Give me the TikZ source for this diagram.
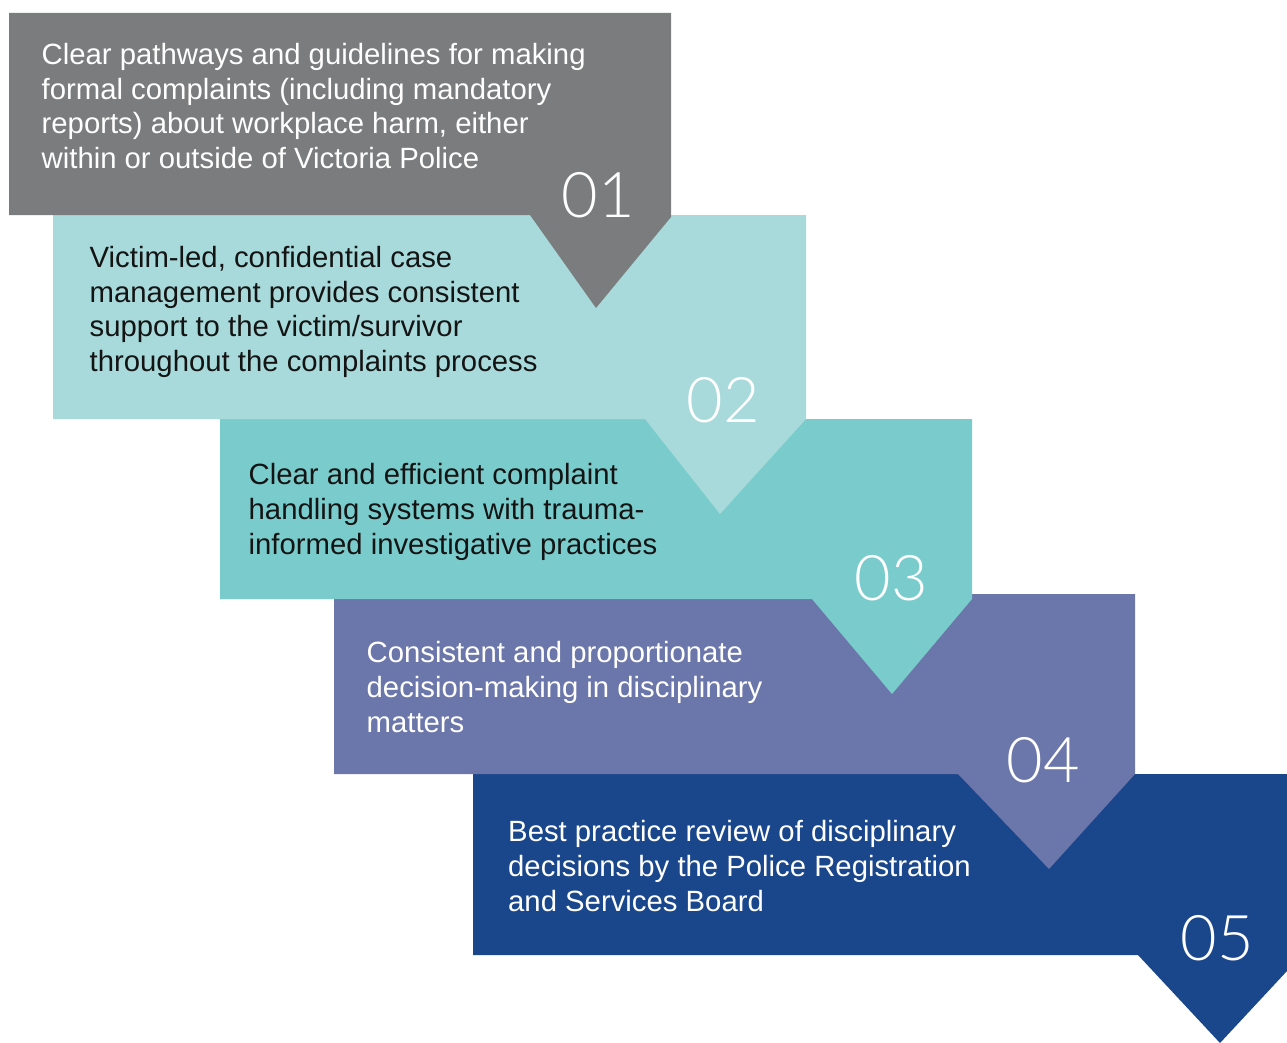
\documentclass[tikz,border=0pt]{standalone}
\usepackage{fontspec}
\setmainfont{Liberation Sans}
\newfontfamily\numfont{Lato Light}
\definecolor{cgray}{RGB}{123,124,126}
\definecolor{clight}{RGB}{168,218,219}
\definecolor{cteal}{RGB}{122,204,204}
\definecolor{cpurple}{RGB}{107,118,170}
\definecolor{cnavy}{RGB}{26,70,140}
\definecolor{cdark}{RGB}{20,20,20}
\begin{document}
\begin{tikzpicture}[x=1pt,y=-1pt,
  txt/.style={anchor=north west,inner sep=0pt,align=left,font=\fontsize{29.3}{34.7}\selectfont},
  num/.style={anchor=base,inner sep=0pt,text=white,font=\numfont\fontsize{63}{63}\selectfont}]
\useasboundingbox (0,0) rectangle (1287,1043);
\clip (0,0) rectangle (1287,1043);
% box 5
\fill[cnavy] (473,774) -- (1287,774) -- (1287,971) -- (1220,1043) -- (1138,955) -- (473,955) -- cycle;
\node[txt,text=white] (t5) at (508,841.5-23) {\rule{0pt}{23pt}Best practice review of disciplinary\\decisions by the Police Registration\\and Services Board};
\node[num] (n5) at (1217,960) {05};
% box 4
\fill[cpurple] (334,594) -- (1135,594) -- (1135,774) -- (1049,869) -- (958,774) -- (334,774) -- cycle;
\node[txt,text=white] (t4) at (366.5,662.5-23) {\rule{0pt}{23pt}Consistent and proportionate\\decision-making in disciplinary\\matters};
\node[num] (n4) at (1043.5,782.7) {04};
% box 3
\fill[cteal] (220,419) -- (972,419) -- (972,599) -- (892,694) -- (812,599) -- (220,599) -- cycle;
\node[txt,text=cdark] (t3) at (248.5,484.5-23) {\rule{0pt}{23pt}Clear and efficient complaint\\handling systems with trauma-\\informed investigative practices};
\node[num] (n3) at (891.5,600) {03};
% box 2
\fill[clight] (53,215) -- (806,215) -- (806,419) -- (720,514) -- (645,419) -- (53,419) -- cycle;
\node[txt,text=cdark] (t2) at (89.5,267.3-23) {\rule{0pt}{23pt}Victim-led, confidential case\\management provides consistent\\support to the victim/survivor\\throughout the complaints process};
\node[num] (n2) at (723,422.7) {02};
% box 1
\fill[cgray] (9,13) -- (671,13) -- (671,217) -- (596,308) -- (530,215) -- (9,215) -- cycle;
\node[txt,text=white] (t1) at (41.5,64.3-23) {\rule{0pt}{23pt}Clear pathways and guidelines for making\\formal complaints (including mandatory\\reports) about workplace harm, either\\within or outside of Victoria Police};
\node[num] (n1) at (598,217) {01};
\end{tikzpicture}
\end{document}
